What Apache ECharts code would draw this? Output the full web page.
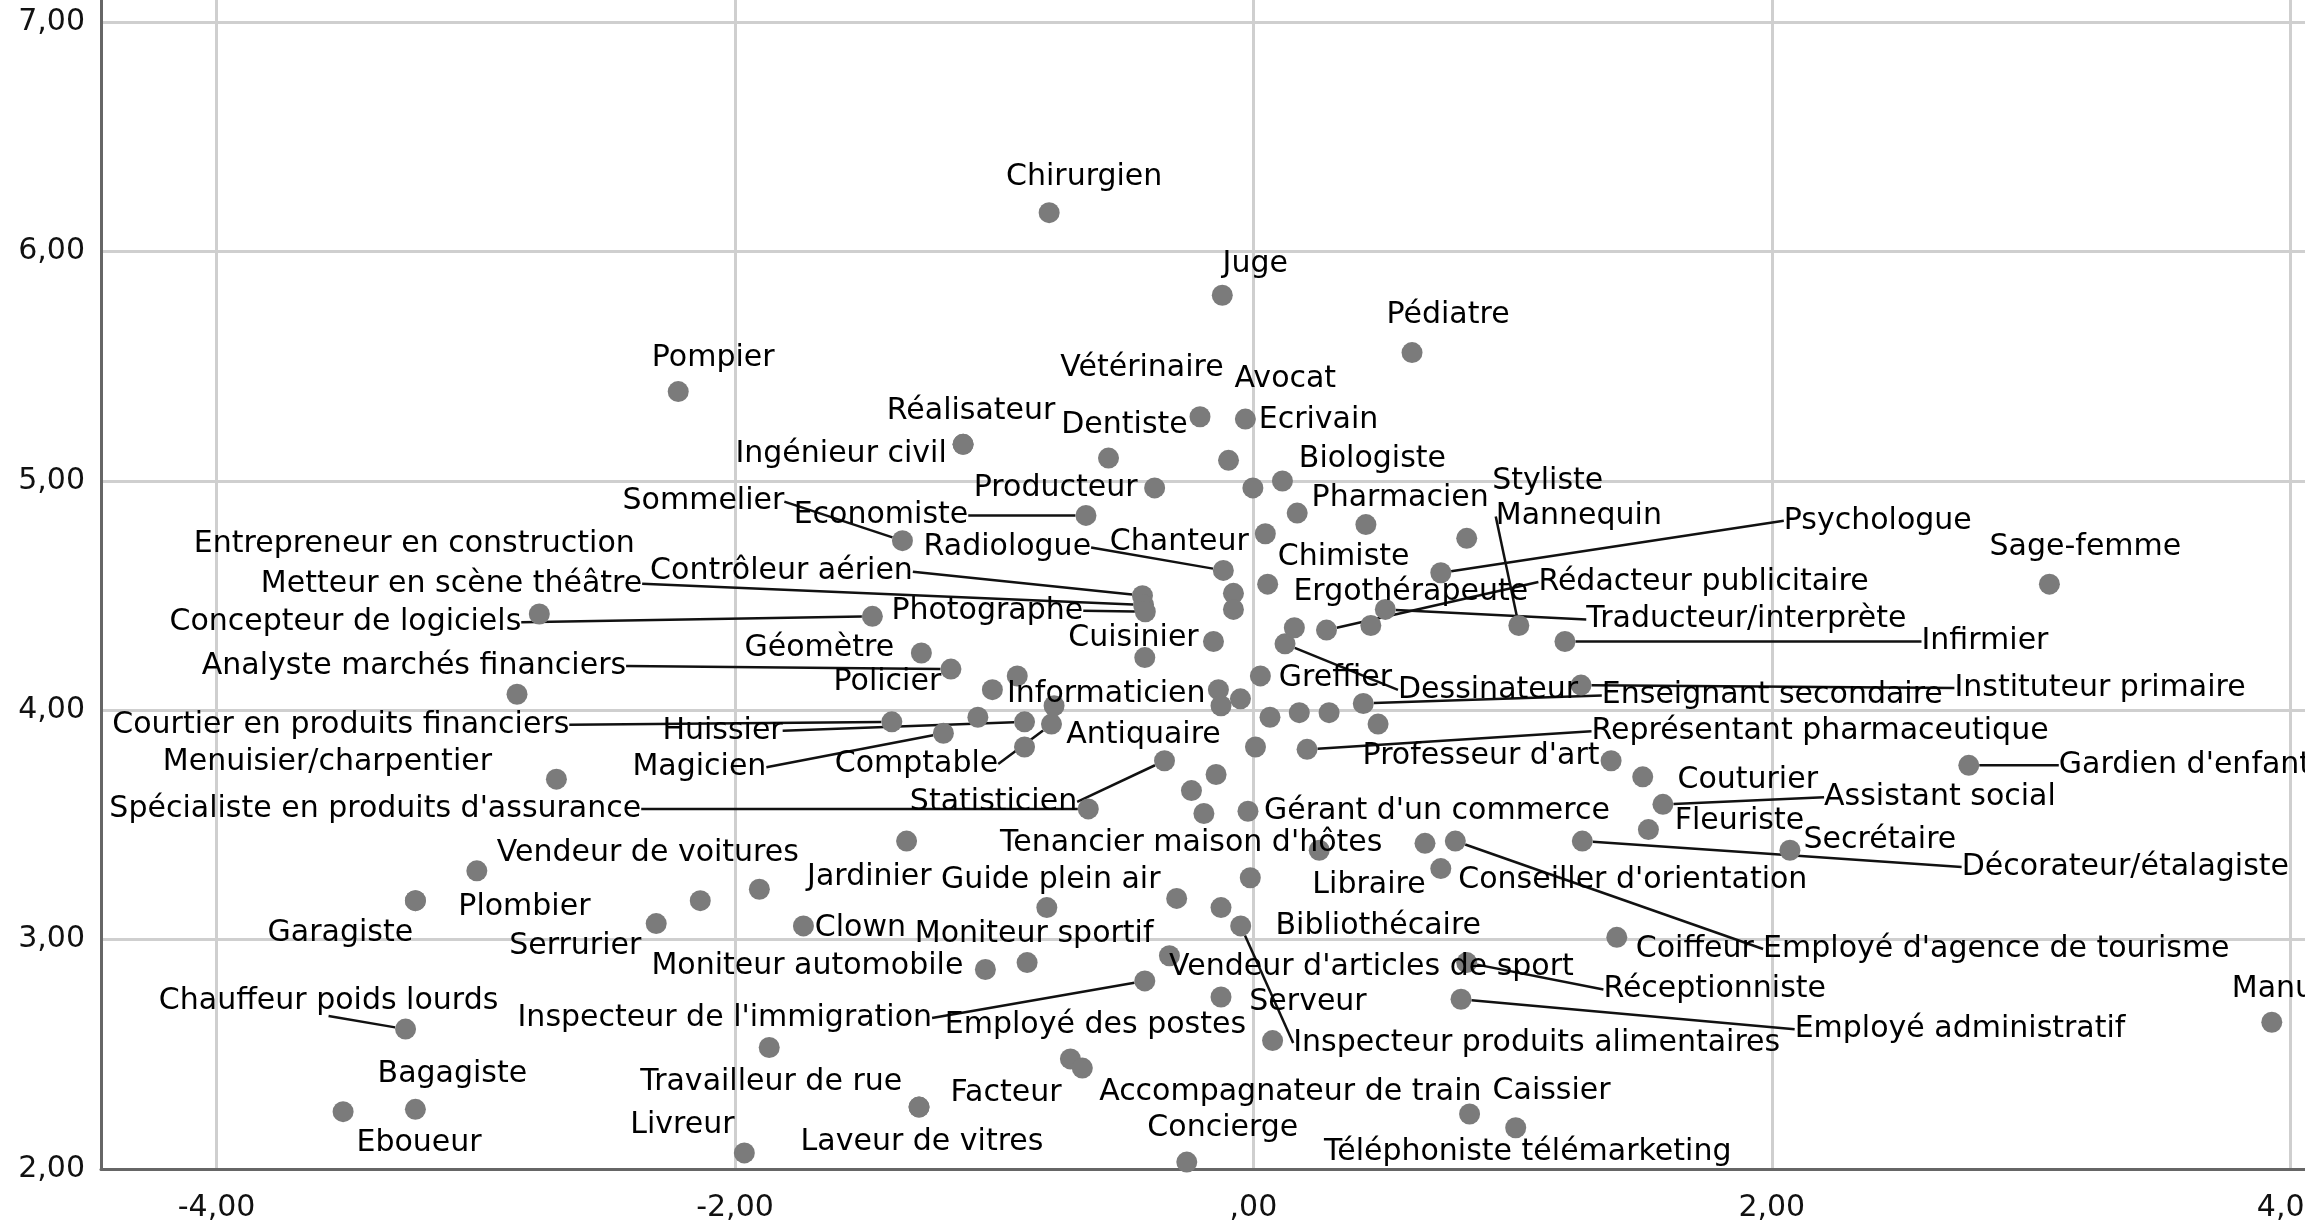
<!DOCTYPE html>
<html>
<head>
<meta charset="utf-8">
<script src="https://cdn.jsdelivr.net/npm/echarts@6/dist/echarts.min.js"></script>
<style>
html,body{margin:0;padding:0;overflow:hidden;background:#fff;width:2305px;height:1226px;position:relative}
#c{position:absolute;left:0;top:-207px;width:2600px;height:1433px}
</style>
</head>
<body>
<div id="c"></div>
<script>
// ---- data ----
const professions = [
"Chirurgien","Juge","Pédiatre","Pompier","Réalisateur","Ingénieur civil","Vétérinaire","Dentiste","Avocat","Ecrivain",
"Biologiste","Producteur","Economiste","Sommelier","Pharmacien","Styliste","Mannequin","Psychologue","Chanteur","Radiologue",
"Chimiste","Contrôleur aérien","Metteur en scène théâtre","Photographe","Concepteur de logiciels","Entrepreneur en construction","Géomètre","Analyste marchés financiers","Policier","Informaticien",
"Cuisinier","Greffier","Dessinateur","Ergothérapeute","Rédacteur publicitaire","Traducteur/interprète","Infirmier","Sage-femme","Instituteur primaire","Enseignant secondaire",
"Courtier en produits financiers","Huissier","Comptable","Magicien","Antiquaire","Menuisier/charpentier","Spécialiste en produits d'assurance","Statisticien","Gérant d'un commerce","Représentant pharmaceutique",
"Professeur d'art","Couturier","Assistant social","Fleuriste","Gardien d'enfants","Secrétaire","Décorateur/étalagiste","Tenancier maison d'hôtes","Employé d'agence de tourisme","Conseiller d'orientation",
"Libraire","Bibliothécaire","Inspecteur produits alimentaires","Serveur","Vendeur d'articles de sport","Réceptionniste","Employé administratif","Coiffeur","Caissier","Téléphoniste télémarketing",
"Manucure","Concierge","Facteur","Laveur de vitres","Moniteur sportif","Moniteur automobile","Guide plein air","Jardinier","Clown","Inspecteur de l'immigration",
"Vendeur de voitures","Plombier","Garagiste","Serrurier","Chauffeur poids lourds","Bagagiste","Eboueur","Livreur","Travailleur de rue","Employé des postes",
"Accompagnateur de train",
"","","","","","","","","","","","","","","","","","","","","","","","",""
];
const xValues = [
-0.788,-0.120,0.612,-2.219,-1.120,-1.120,-0.206,-0.559,-0.031,-0.096,
0.112,-0.381,-0.646,-1.354,0.169,0.823,1.024,0.723,0.046,-0.116,
0.055,-0.428,-0.424,-0.417,-1.470,-2.755,-1.281,-1.167,-1.007,-0.911,
-0.154,0.027,0.122,0.453,0.282,0.509,1.202,3.071,1.264,0.424,
-1.395,-0.883,-0.779,-1.196,-0.883,-2.689,-0.637,-0.343,-0.021,0.207,
1.380,1.502,1.580,1.524,2.760,2.070,1.269,0.254,0.779,0.723,
0.662,-0.012,-0.049,-0.125,-0.324,0.823,0.801,1.402,0.834,1.012,
3.929,-0.257,-1.290,-1.290,-0.873,-1.034,-0.797,-1.906,-1.736,-0.419,
-2.996,-3.233,-3.233,-2.304,-3.271,-3.233,-3.512,-1.964,-1.868,-0.706,
-0.660,
-2.841,-0.769,-1.063,-0.419,-0.077,-0.077,-0.002,0.434,0.158,-0.135,-0.125,-0.050,0.064,0.177,0.292,0.481,0.008,-0.144,-0.239,-0.191,-1.338,-2.134,-0.296,-0.125,0.074
];
const yValues = [
6.17,5.81,5.56,5.39,5.16,5.16,5.28,5.10,5.27,5.09,
5.00,4.97,4.85,4.74,4.86,4.75,4.37,4.60,4.77,4.61,
4.55,4.50,4.46,4.43,4.41,4.42,4.25,4.18,4.09,4.15,
4.30,4.15,4.29,4.37,4.35,4.44,4.30,4.55,4.11,4.03,
3.95,3.95,3.94,3.90,3.84,3.70,3.57,3.78,3.56,3.83,
3.78,3.71,3.59,3.48,3.76,3.39,3.43,3.39,3.43,3.31,
3.42,3.27,3.06,2.75,2.93,2.90,2.74,3.01,2.24,2.18,
2.64,2.03,2.27,2.27,2.90,2.87,3.14,3.22,3.06,2.82,
3.30,3.17,3.17,3.07,2.61,2.26,2.25,2.07,2.53,2.48,
2.44,
4.07,4.02,3.97,4.23,4.51,4.44,4.97,4.81,4.36,4.09,4.02,4.05,3.97,3.99,3.99,3.94,3.84,3.72,3.65,3.55,3.43,3.17,3.18,3.14,2.56
];
const xTickValues = [-4, -2, 0, 2, 4];
const yTickValues = [2, 3, 4, 5, 6, 7];

// ---- label placement (pixel offsets from the point) ----
const labelPlacement = {
"Chirurgien":[35,-35],"Juge":[33,-31],"Pédiatre":[36,-37],"Pompier":[35,-33],"Réalisateur":[8,-33],
"Ingénieur civil":[-122,10],"Vétérinaire":[-58,-49],"Dentiste":[16,-33],"Avocat":[40,-40],"Ecrivain":[90,-40],
"Biologiste":[90,-22],"Producteur":[-99,0],"Economiste":[-205,0],"Sommelier":[-199,-39],"Pharmacien":[103,-15],
"Styliste":[81,-57],"Mannequin":[60,-109],"Psychologue":[437,-52],"Chanteur":[-86,8],"Radiologue":[-216,-23],
"Chimiste":[76,-27],"Contrôleur aérien":[-361,-24],"Metteur en scène théâtre":[-692,-21],"Photographe":[-158,-1],
"Concepteur de logiciels":[-527,6],"Entrepreneur en construction":[-125,-70],"Géomètre":[-102,-5],
"Analyste marchés financiers":[-537,-3],"Policier":[-105,-7],"Informaticien":[89,18],"Cuisinier":[-80,-3],
"Greffier":[75,2],"Dessinateur":[203,46],"Ergothérapeute":[40,-33],"Rédacteur publicitaire":[377,-48],
"Traducteur/interprète":[361,10],"Infirmier":[420,0],"Sage-femme":[36,-37],"Instituteur primaire":[519,3],
"Enseignant secondaire":[409,-8],"Courtier en produits financiers":[-551,3],"Huissier":[-302,9],"Comptable":[-135,40],
"Magicien":[-244,34],"Antiquaire":[119,-12],"Menuisier/charpentier":[-229,-17],"Spécialiste en produits d'assurance":[-713,0],
"Statisticien":[-171,41],"Gérant d'un commerce":[189,0],"Représentant pharmaceutique":[513,-18],"Professeur d'art":[-130,-5],
"Couturier":[105,3],"Assistant social":[277,-7],"Fleuriste":[91,-8],"Gardien d'enfants":[90,0,"left"],"Secrétaire":[90,-10],
"Décorateur/étalagiste":[543,26],"Tenancier maison d'hôtes":[-128,-7],"Employé d'agence de tourisme":[541,108],
"Conseiller d'orientation":[192,12],"Libraire":[-56,42],"Bibliothécaire":[128,48],"Inspecteur produits alimentaires":[296,117],
"Serveur":[87,5],"Vendeur d'articles de sport":[202,11],"Réceptionniste":[248,27],"Employé administratif":[499,30],
"Coiffeur":[78,12],"Caissier":[82,-23],"Téléphoniste télémarketing":[12,24],"Manucure":[-40,-33,"left"],
"Concierge":[36,-34],"Facteur":[87,-14],"Laveur de vitres":[3,35],"Moniteur sportif":[7,-28],"Moniteur automobile":[-178,-3],
"Guide plein air":[4,-27],"Jardinier":[110,-12],"Clown":[57,2],"Inspecteur de l'immigration":[-420,37],
"Vendeur de voitures":[171,-18],"Plombier":[109,7],"Garagiste":[-75,33],"Serrurier":[-81,23],"Chauffeur poids lourds":[-77,-28],
"Bagagiste":[37,-35],"Eboueur":[76,32],"Livreur":[-62,-28],"Travailleur de rue":[2,35],"Employé des postes":[25,-34],
"Accompagnateur de train":[208,24]
};
const leaderLines = ["Economiste","Sommelier","Mannequin","Psychologue","Radiologue","Contrôleur aérien","Metteur en scène théâtre",
"Photographe","Concepteur de logiciels","Analyste marchés financiers","Dessinateur","Rédacteur publicitaire","Traducteur/interprète",
"Infirmier","Instituteur primaire","Enseignant secondaire","Courtier en produits financiers","Huissier","Comptable","Magicien",
"Spécialiste en produits d'assurance","Statisticien","Représentant pharmaceutique","Assistant social","Gardien d'enfants",
"Décorateur/étalagiste","Employé d'agence de tourisme","Inspecteur produits alimentaires","Réceptionniste","Employé administratif",
"Inspecteur de l'immigration","Chauffeur poids lourds"];

function fmt(v){
  const s = Math.abs(v).toFixed(2).replace('.', ',');
  const t = s.startsWith('0,') ? s.slice(1) : s;
  return (v < 0 ? '-' : '') + t;
}

const FONT = 'DejaVu Sans';
const seriesData = professions.map((n, i) => ({
  value: [xValues[i], yValues[i]],
  name: n,
  label: { show: n !== '' },
  labelLine: { show: leaderLines.indexOf(n) >= 0 }
}));

const chart = echarts.init(document.getElementById('c'), null, { renderer: 'canvas' });
chart.setOption({
  animation: false,
  backgroundColor: '#ffffff',
  grid: { left: 101, top: 0, bottom: 57, right: 50.6, containLabel: false },
  xAxis: {
    type: 'value', min: -4.446, max: 5,
    axisLine: { show: true, onZero: false, lineStyle: { color: '#666666', width: 3 } },
    axisTick: { show: false },
    splitLine: { show: true, lineStyle: { color: '#cfcfcf', width: 3 } },
    axisLabel: {
      showMinLabel: false, showMaxLabel: false, margin: 24,
      fontFamily: FONT, fontSize: 30, color: '#111',
      formatter: v => (xTickValues.indexOf(Math.round(v * 1000) / 1000) >= 0 ? fmt(v) : '')
    }
  },
  yAxis: {
    type: 'value', min: 2, max: 8, interval: 1,
    axisLine: { show: true, onZero: false, lineStyle: { color: '#666666', width: 3 } },
    axisTick: { show: false },
    splitLine: { show: true, lineStyle: { color: '#cfcfcf', width: 3 } },
    axisLabel: {
      margin: 16, fontFamily: FONT, fontSize: 30, color: '#111',
      formatter: v => (yTickValues.indexOf(v) >= 0 ? fmt(v) : '')
    }
  },
  series: [{
    type: 'scatter',
    symbol: 'circle',
    symbolSize: 21,
    itemStyle: { color: '#7b7b7b', opacity: 1 },
    label: {
      show: true, formatter: '{b}', position: 'top',
      fontFamily: FONT, fontSize: 30, color: '#000'
    },
    labelLine: { show: false, lineStyle: { color: '#111', width: 2.5 } },
    labelLayout: function (p) {
      const n = professions[p.dataIndex];
      const pl = labelPlacement[n];
      if (!pl) return {};
      const cx = p.rect.x + p.rect.width / 2;
      const cy = p.rect.y + p.rect.height / 2;
      return { x: cx + pl[0], y: cy + pl[1], align: pl[2] || 'center', verticalAlign: 'middle' };
    },
    emphasis: { disabled: true },
    data: seriesData
  }]
});
</script>
</body>
</html>
